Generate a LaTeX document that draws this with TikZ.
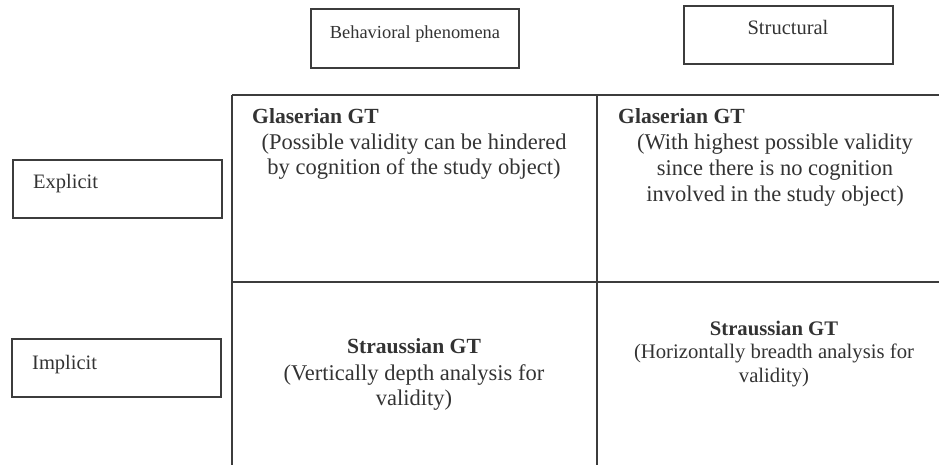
\documentclass[tikz,border=0pt]{standalone}
\usepackage{fontspec}
\setmainfont{Liberation Serif}
\definecolor{ink}{HTML}{333333}
\definecolor{rule}{HTML}{3C3C3C}
\begin{document}
\begin{tikzpicture}[x=1pt,y=-1pt,
  frame/.style={draw=rule,line width=1.4pt},
  gridline/.style={draw=rule,line width=1.5pt},
  txt/.style={inner sep=0pt,text=ink,anchor=base},
  ltxt/.style={inner sep=0pt,text=ink,anchor=base west},
  fa/.style={font=\fontsize{18.4}{22}\selectfont},
  fb/.style={font=\fontsize{20.5}{24}\selectfont},
  fbody/.style={font=\fontsize{22.5}{25}\selectfont},
  ftitle/.style={font=\fontsize{21.6}{25}\selectfont\bfseries},
  frt/.style={font=\fontsize{20.7}{24}\selectfont\bfseries},
  frb/.style={font=\fontsize{20.7}{24}\selectfont}]
\useasboundingbox (0,0) rectangle (939,465);
% header boxes
\draw[frame] (311,9) rectangle (519,68);
\draw[frame] (684,6) rectangle (893,64);
\draw[frame] (13,160) rectangle (222,218);
\draw[frame] (12,339) rectangle (221,397);
% grid
\draw[gridline] (232,95) -- (939,95);
\draw[gridline] (232,282) -- (939,282);
\draw[gridline] (232,95) -- (232,465);
\draw[gridline] (597,95) -- (597,465);
% header labels
\node[txt,fa] (beh) at (415,38.5) {Behavioral phenomena};
\node[txt,fb] (str) at (788,35) {Structural};
\node[ltxt,fb] (exp) at (33,189) {Explicit};
\node[ltxt,fb] (imp) at (32,369) {Implicit};
% top-left cell
\node[ltxt,ftitle] (g1t) at (252,123.5) {Glaserian GT};
\node[txt,fbody] (g1a) at (414,150) {(Possible validity can be hindered};
\node[txt,fbody] (g1b) at (414,175) {by cognition of the study object)};
% top-right cell
\node[ltxt,ftitle] (g2t) at (618,123.5) {Glaserian GT};
\node[txt,fbody] (g2a) at (775,150) {(With highest possible validity};
\node[txt,fbody] (g2b) at (775,176) {since there is no cognition};
\node[txt,fbody] (g2c) at (775,201) {involved in the study object)};
% bottom-left cell
\node[txt,ftitle] (s1t) at (414,353.5) {Straussian GT};
\node[txt,fbody] (s1a) at (414,380) {(Vertically depth analysis for};
\node[txt,fbody] (s1b) at (414,405) {validity)};
% bottom-right cell
\node[txt,frt] (s2t) at (774,335) {Straussian GT};
\node[txt,frb] (s2a) at (774,358) {(Horizontally breadth analysis for};
\node[txt,frb] (s2b) at (774,382) {validity)};
\end{tikzpicture}
\end{document}
